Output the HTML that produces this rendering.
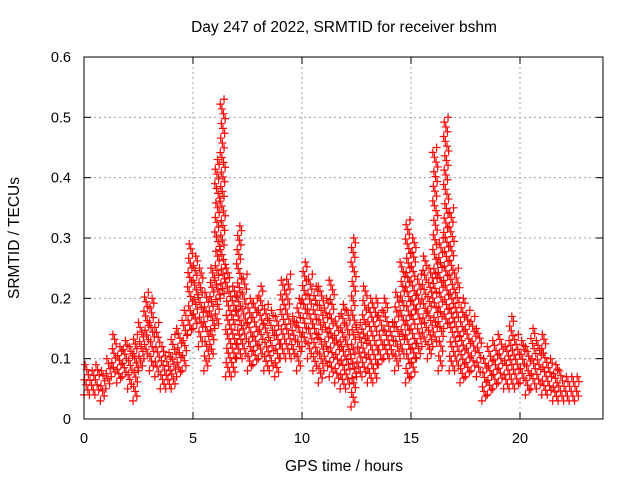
<!DOCTYPE html>
<html><head><meta charset="utf-8"><style>
body{margin:0;background:#fff}
svg{display:block;font-family:"Liberation Sans",sans-serif}
</style></head><body>
<svg id="chart" width="640" height="480" viewBox="0 0 640 480">
<rect width="640" height="480" fill="#fff"/>
<text x="344" y="32" font-size="15.5" text-anchor="middle">Day 247 of 2022, SRMTID for receiver bshm</text>
<text x="344" y="471" font-size="15.5" text-anchor="middle">GPS time / hours</text>
<text transform="translate(19,238) rotate(-90)" font-size="15.5" text-anchor="middle">SRMTID / TECUs</text>
<g id="grid"></g><g id="marks"></g><g id="axes"></g>
</svg>
<script>
const binStart=[0,0.25,0.5,0.75,1,1.25,1.5,1.75,2,2.25,2.5,2.75,3,3.25,3.5,3.75,4,4.25,4.5,4.75,5,5.25,5.5,5.75,6,6.25,6.5,6.75,7,7.25,7.5,7.75,8,8.25,8.5,8.75,9,9.25,9.5,9.75,10,10.25,10.5,10.75,11,11.25,11.5,11.75,12,12.25,12.5,12.75,13,13.25,13.5,13.75,14,14.25,14.5,14.75,15,15.25,15.5,15.75,16,16.25,16.5,16.75,17,17.25,17.5,17.75,18,18.25,18.5,18.75,19,19.25,19.5,19.75,20,20.25,20.5,20.75,21,21.25,21.5,21.75,22,22.25,22.5];
const lowVals=[.04,.04,.04,.03,.05,.07,.06,.07,.05,.03,.08,.10,.08,.07,.05,.05,.05,.07,.08,.14,.15,.12,.08,.10,.15,.20,.07,.07,.10,.10,.08,.09,.10,.08,.08,.07,.10,.10,.10,.08,.12,.10,.08,.06,.08,.07,.06,.05,.05,.02,.07,.07,.06,.06,.09,.10,.10,.08,.10,.06,.07,.10,.12,.10,.12,.08,.15,.08,.08,.06,.07,.08,.07,.03,.04,.05,.06,.05,.05,.05,.06,.04,.05,.05,.04,.04,.03,.03,.03,.03,.03];
const highVals=[.09,.08,.09,.08,.10,.14,.12,.13,.12,.14,.16,.21,.20,.16,.12,.11,.14,.15,.18,.29,.27,.25,.21,.25,.43,.53,.25,.22,.32,.24,.20,.20,.22,.19,.18,.17,.23,.24,.17,.20,.26,.24,.22,.22,.20,.23,.17,.19,.18,.30,.16,.22,.20,.20,.18,.20,.16,.21,.26,.33,.30,.24,.27,.25,.45,.30,.50,.35,.25,.20,.18,.17,.15,.10,.12,.13,.14,.12,.17,.14,.13,.12,.15,.13,.14,.10,.09,.08,.07,.07,.07];
const xTicks=[0,5,10,15,20];
const yTicks=[0,0.1,0.2,0.3,0.4,0.5,0.6];
const L=84,R=603,T=57,B=419;
const xs=v=>L+v*21.8, ys=v=>B-(v/0.6)*(B-T);
const NS="http://www.w3.org/2000/svg";
function mk(tag,a,parent){const e=document.createElementNS(NS,tag);for(const k in a)e.setAttribute(k,a[k]);parent.appendChild(e);return e;}
const grid=document.getElementById('grid'),axes=document.getElementById('axes'),marks=document.getElementById('marks');
xTicks.forEach(t=>{
 const g=mk('line',{x1:xs(t),x2:xs(t),y1:T,y2:B,stroke:'#a0a0a0','stroke-dasharray':'2,3'},grid);
 
 
 const tx=mk('text',{x:xs(t),y:B+24,'font-size':14.5,'text-anchor':'middle'},axes);tx.textContent=t;
 
 
 mk('line',{x1:xs(t),x2:xs(t),y1:B,y2:B-7,stroke:'#000'},axes);
 mk('line',{x1:xs(t),x2:xs(t),y1:T,y2:T+7,stroke:'#000'},axes);
});
yTicks.forEach(t=>{
 const g=mk('line',{x1:L,x2:R,y1:ys(t),y2:ys(t),stroke:'#a0a0a0','stroke-dasharray':'2,3'},grid);
 
 
 const tx=mk('text',{x:L-13,y:ys(t)+5,'font-size':14.5,'text-anchor':'end'},axes);tx.textContent=t;
 
 
 mk('line',{x1:L,x2:L+7,y1:ys(t),y2:ys(t),stroke:'#000'},axes);
 mk('line',{x1:R,x2:R-7,y1:ys(t),y2:ys(t),stroke:'#000'},axes);
});
const fr=mk('rect',{x:L,y:T,width:R-L,height:B-T,fill:'none',stroke:'#000'},axes);


let d='';
binStart.forEach((t,i)=>{
 const lo=lowVals[i],hi=highVals[i];
 const n=Math.max(3,Math.round((hi-lo)/0.008));
 for(let k=0;k<=n;k++){
  const v=lo+(hi-lo)*k/n;
  const off=((k*7)%10)/10*0.25;
  const x=xs(t+off),y=ys(v);
  d+=`M${x-4},${y}h8M${x},${y-4}v8`;
 }
});
const p=mk('path',{d:d,stroke:'#f00','stroke-width':1.2,fill:'none'},marks);


</script>
</body></html>
